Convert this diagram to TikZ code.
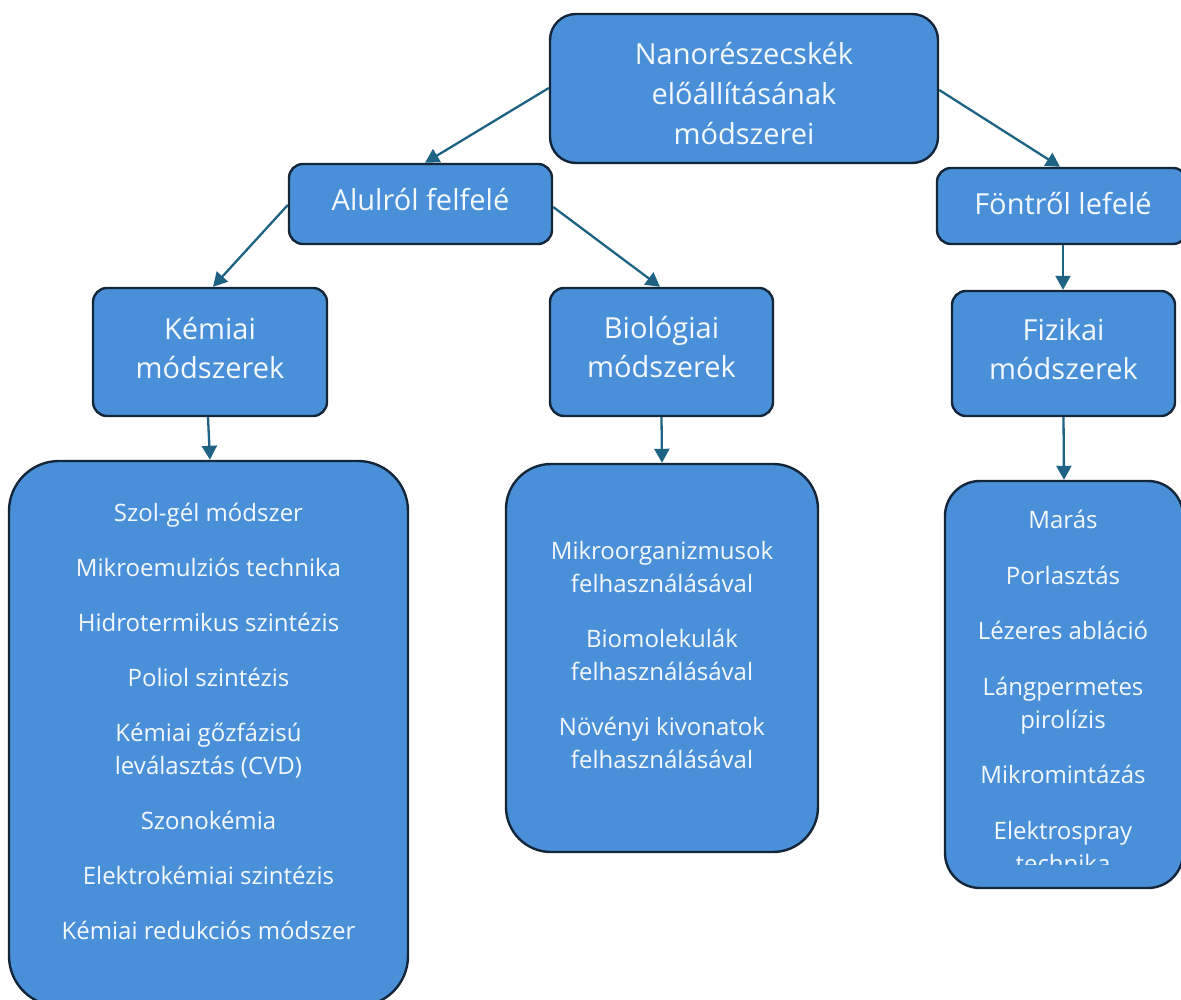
\documentclass[tikz,border=0pt]{standalone}
\usepackage{fontspec}
\setmainfont{Open Sans}
\usetikzlibrary{arrows.meta}
\definecolor{boxfill}{HTML}{4A90D9}
\definecolor{boxline}{HTML}{14263A}
\definecolor{arrcol}{HTML}{1E6384}
\definecolor{txt}{HTML}{F4F8FF}
\tikzset{
  box/.style={draw=boxline, line width=2.4pt, fill=boxfill, inner sep=0pt, rounded corners=#1},
  box/.default=14pt,
  lbl/.style={text=txt, align=center, inner sep=0pt},
  conn/.style={draw=arrcol, line width=2.3pt, -{Triangle[width=15pt,length=14pt]}},
  bigfont/.style={font=\fontsize{29}{40}\selectfont},
  midfont/.style={font=\fontsize{29}{39}\selectfont},
  listfont/.style={font=\fontsize{24}{33}\selectfont},
}
\begin{document}
\begin{tikzpicture}[x=1pt,y=-1pt]
\useasboundingbox (0,0) rectangle (1181,1000);
% boxes
\node[box=26pt, minimum width=388pt, minimum height=149pt] (top) at (744,88.5) {};
\node[box, minimum width=263pt, minimum height=80pt] (alul) at (420.5,204) {};
\node[box, minimum width=250pt, minimum height=76pt] (font) at (1062,206) {};
\node[box, minimum width=234pt, minimum height=128pt] (kem) at (210,352) {};
\node[box, minimum width=223pt, minimum height=128pt] (bio) at (661.5,352) {};
\node[box, minimum width=223pt, minimum height=125pt] (fiz) at (1063.5,353.5) {};
\node[box=50pt, minimum width=399pt, minimum height=545pt] (kemlist) at (208.5,733.5) {};
\node[box=45pt, minimum width=312pt, minimum height=388pt] (biolist) at (662,658) {};
\node[box=35pt, minimum width=238pt, minimum height=407pt] (fizlist) at (1064,684.5) {};
% texts
\node[lbl, bigfont] (toptext) at (744,93.5) {Nanorészecskék\\előállításának\\módszerei};
\node[lbl, midfont] (alultext) at (420.5,200) {Alulról felfelé};
\node[lbl, midfont] (fonttext) at (1063,204) {Föntről lefelé};
\node[lbl, midfont] (kemtext) at (210,348) {Kémiai\\módszerek};
\node[lbl, midfont] (biotext) at (661.5,347) {Biológiai\\módszerek};
\node[lbl, midfont] (fiztext) at (1063.5,349) {Fizikai\\módszerek};
\node[lbl, listfont] (kemlisttext) at (208.5,721.5)
  {Szol-gél módszer\\[22pt]
   Mikroemulziós technika\\[22pt]
   Hidrotermikus szintézis\\[22pt]
   Poliol szintézis\\[22pt]
   Kémiai gőzfázisú\\leválasztás (CVD)\\[22pt]
   Szonokémia\\[22pt]
   Elektrokémiai szintézis\\[22pt]
   Kémiai redukciós módszer};
\node[lbl, listfont] (biolisttext) at (662,655)
  {Mikroorganizmusok\\felhasználásával\\[22pt]
   Biomolekulák\\felhasználásával\\[22pt]
   Növényi kivonatok\\felhasználásával};
\begin{scope}
  \clip (945,481) rectangle (1181,864);
  \node[lbl, listfont, anchor=north] (fizlisttext) at (1063,510)
    {Marás\\[22.5pt]
     Porlasztás\\[22.5pt]
     Lézeres abláció\\[22.5pt]
     Lángpermetes\\pirolízis\\[22.5pt]
     Mikromintázás\\[22.5pt]
     Elektrospray\\technika};
\end{scope}
% connectors
\draw[conn] (top.west |- 0,88) -- (alul.north -| 425,0);
\draw[conn] (top.east |- 0,90) -- (font.north -| 1060,0);
\draw[conn] (alul.west |- 0,205) -- (kem.north -| 213,0);
\draw[conn] (alul.east |- 0,207) -- (bio.north -| 660,0);
\draw[conn] (kem.south -| 208,0) -- (kemlist.north -| 210,0);
\draw[conn] (bio.south) -- (biolist.north);
\draw[conn] (font.south -| 1063,0) -- (fiz.north -| 1063,0);
\draw[conn] (fiz.south) -- (fizlist.north);
\end{tikzpicture}
\end{document}
